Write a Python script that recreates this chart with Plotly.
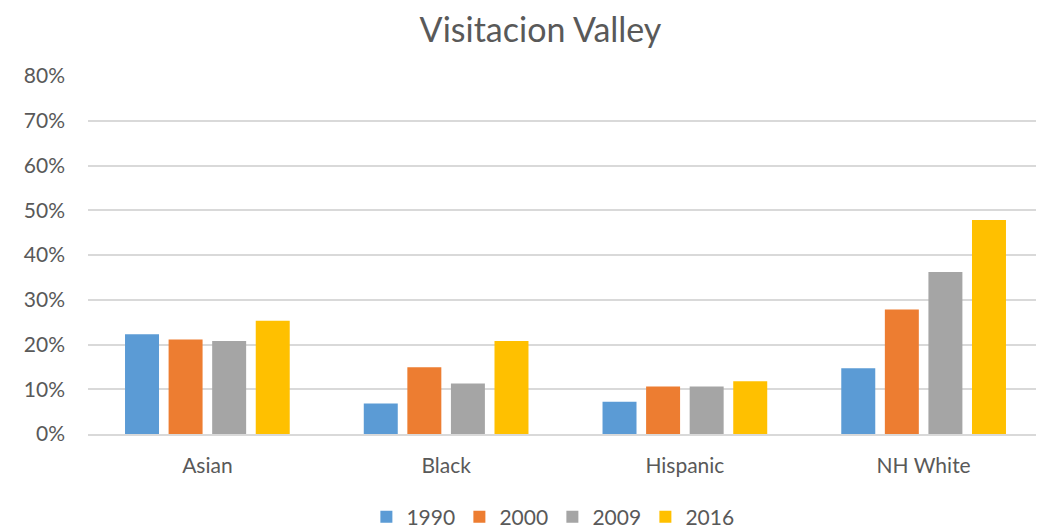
import plotly.graph_objects as go

categories = ["Asian", "Black", "Hispanic", "NH White"]
years = ["1990", "2000", "2009", "2016"]
v1990 = [0.223, 0.068, 0.072, 0.147]
v2000 = [0.211, 0.149, 0.106, 0.278]
v2009 = [0.208, 0.113, 0.106, 0.362]
v2016 = [0.253, 0.208, 0.118, 0.478]
colors = ["#5B9BD5", "#ED7D31", "#A5A5A5", "#FFC000"]
tick_vals = [0, 0.1, 0.2, 0.3, 0.4, 0.5, 0.6, 0.7, 0.8]

series = [v1990, v2000, v2009, v2016]
fig = go.Figure()
for name, vals, c in zip(years, series, colors):
    fig.add_trace(go.Bar(x=categories, y=vals, name=name, marker=dict(color=c, line=dict(width=0))))

font = "Lato, Carlito, Calibri, sans-serif"
fig.update_layout(
    width=1036, height=524,
    margin=dict(l=80, r=1, t=68, b=98, autoexpand=False),
    paper_bgcolor="white", plot_bgcolor="white",
    barmode="group", bargap=0.27, bargroupgap=0.22,
    title=dict(text="Visitacion Valley", x=0.514, xanchor="center", y=0.958, yanchor="middle",
               font=dict(family=font, size=34, color="#595959")),
    font=dict(family=font, size=21, color="#595959"),
    legend=dict(orientation="h", x=0.2915, xanchor="left", y=-0.232, yanchor="middle",
                font=dict(size=21, color="#595959"), itemwidth=30, traceorder="normal",
                entrywidth=48, entrywidthmode="pixels"),
    showlegend=True,
)
fig.update_yaxes(range=[0, 0.8], tickvals=tick_vals, tickformat=".0%", gridcolor="#D9D9D9", gridwidth=1.5,
                 zeroline=False, showline=False, ticklabelstandoff=22, automargin=False,
                 tickfont=dict(size=21, color="#595959"))
fig.update_xaxes(showline=True, linecolor="#D9D9D9", linewidth=1.5, ticks="", ticklabelstandoff=12,
                 automargin=False, tickfont=dict(size=21, color="#595959"))
fig.write_html("out.html")
